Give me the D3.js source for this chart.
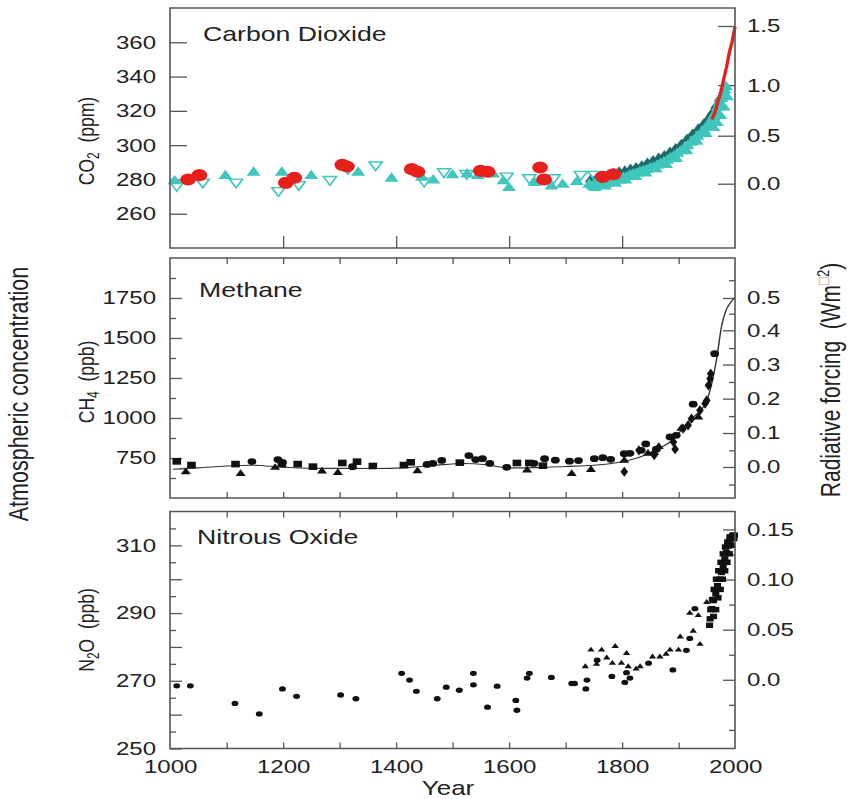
<!DOCTYPE html>
<html>
<head>
<meta charset="utf-8">
<script src="https://cdn.jsdelivr.net/npm/d3@7"></script>
<style>
  body { margin: 0; background: #fff; }
  svg { display: block; }
</style>
</head>
<body>
<svg id="chart"></svg>
<script>
// ---- data: [year, value] ----
var co2Circles = [[1032,280],[1052,282.5],[1205,278],[1220,281],[1305,288.5],[1313,287.5],[1428,286],[1438,284.5],
  [1550,285],[1562,284.5],[1655,287],[1662,280],[1766,281.5],[1785,283]];
var co2TriUp = [[1008,279],[1098,282],[1148,284],[1198,284],[1250,282],[1333,284],[1392,280.5],[1446,281],[1466,279.5],
  [1500,282.5],[1526,283],[1545,282],[1572,283],[1590,279],[1600,275],[1645,278],[1675,276],[1695,277],[1720,278.5],
  [1742,277],[1748,276],[1755,277.5],[1760,276.5],[1766,278],[1772,277.5],[1778,279],[1784,278.5],[1790,280],[1796,279.5],
  [1802,281],[1808,281.5],[1814,282.5],[1820,283],[1826,283.5],[1832,284.5],[1838,285],[1844,285.5],[1850,286.5],
  [1856,287],[1862,288],[1868,289],[1874,290],[1880,291],[1886,292.5],[1892,293.5],[1898,295],[1904,296.5],[1910,298],
  [1916,299.5],[1922,301.5],[1928,303],[1934,305],[1940,307],[1945,308.5],[1950,310.5],[1954,312.5],[1958,314.5],
  [1962,316.5],[1966,319],[1970,322],[1973,324.5],[1976,327],[1979,329.5],[1982,332],[1984,334],
  [1752,275],[1770,276],[1788,277.5],[1806,279.5],[1824,281.5],[1842,283.5],[1860,286],[1878,288.5],[1896,292],
  [1914,296.5],[1932,302],[1948,306.5],[1962,310],[1968,313],[1974,317],[1980,322],[1986,328]];
var co2TriDown = [[1012,276.5],[1058,278.5],[1117,278.5],[1192,273.5],[1228,277],[1283,280],[1315,286.5],[1364,288.5],
  [1450,279],[1485,284.5],[1525,283.5],[1596,282],[1636,281],[1679,281],[1727,283],[1751,283],[1768,281]];
var co2Dark = [[1745,280],[1755,280.5],[1765,281],[1775,282.5],[1785,283.5],[1795,284.5],[1805,285],[1815,286],
  [1825,287],[1835,288],[1845,289.5],[1855,291],[1865,292.5],[1875,294],[1885,296],[1895,298],[1905,300.5],
  [1915,303.5],[1925,306.5],[1935,309.5],[1945,312.5],[1953,315.5],[1960,319],[1967,323],[1973,327]];
var co2Line = [[1959,315],[1965,319.5],[1970,325.5],[1975,331],[1980,338.5],[1985,345.5],[1990,354],[1995,360.5],[2000,369]];

var ch4Squares = [[1012,729],[1038,706],[1116,712],[1198,712],[1226,712],[1253,696],[1305,719],[1331,727],[1359,700],
  [1414,706],[1426,723],[1513,721],[1614,719],[1636,719],[1660,702]];
var ch4Circles = [[1145,728],[1191,740],[1199,722],[1323,696],[1455,710],[1465,716],[1481,735],[1529,765],[1541,740],
  [1553,746],[1566,716],[1596,692],[1644,716],[1663,746],[1682,736],[1707,730],[1723,734],[1751,746],[1766,752],
  [1780,742],[1804,777],[1814,779],[1834,798],[1842,838],[1861,805],[1885,882],[1896,892],[1926,1086],[1964,1402]];
var ch4Triangles = [[1028,662],[1125,652],[1186,690],[1269,667],[1297,658],[1438,669],[1632,673],[1711,652],[1745,677],
  [1804,735],[1846,778],[1857,785],[1865,820],[1905,935],[1935,1005]];
var ch4Diamonds = [[1804,664],[1830,798],[1857,768],[1891,850],[1894,805],[1908,934],[1917,954],[1923,996],[1938,1048],
  [1947,1090],[1950,1110],[1953,1204],[1956,1246],[1957,1277]];
var ch4Line = [[1005,680],[1050,688],[1100,700],[1145,705],[1200,692],[1250,686],[1300,685],[1360,684],[1420,690],
  [1470,705],[1520,716],[1560,708],[1600,688],[1650,690],[1700,697],[1750,705],[1790,720],[1832,756],[1860,800],
  [1885,850],[1920,986],[1950,1110],[1968,1381],[1976,1569],[1984,1673],[1991,1715],[2000,1756]];

var n2oCircles = [[1012,268.5],[1036,268.5],[1115,263.3],[1158,260.2],[1199,267.6],[1224,265.4],[1302,265.8],[1329,264.7],
  [1410,272.2],[1424,270.2],[1436,266.9],[1473,264.7],[1489,268.1],[1512,267.2],[1537,272.2],[1537,268.8],[1562,262.2],
  [1579,268.4],[1612,264.2],[1614,261.3],[1632,270.8],[1636,272.2],[1675,271],[1711,269.2],[1716,269.2],[1736,267.6],
  [1738,270.2],[1756,276.1],[1782,271.3],[1805,269.5],[1808,272.4],[1814,270.8],[1847,275.2],[1890,273.2],[1914,279],
  [1920,282.5],[1929,291.3]];
var n2oTriangles = [[1735,274.2],[1745,279.1],[1755,274.9],[1764,279.1],[1773,276.8],[1788,280.2],[1783,275.2],
  [1799,275.2],[1808,278.1],[1811,274.2],[1825,273.5],[1832,274.2],[1854,277.1],[1867,277.1],[1878,277.9],[1885,279.1],
  [1900,279.1],[1903,283],[1920,290],[1926,284.7],[1938,280.8],[1935,289.3],[1950,293.2]];
var n2oSquares = [[1955,286.4],[1956,288.3],[1959,291.3],[1962,293.7],[1966,295.7],[1969,298.1],[1973,300],[1976,302],
  [1979,304],[1982,306],[1985,307.9],[1988,309.8],[1991,311.3],[1994,312.3],
  [1962,289],[1966,291],[1970,294.5],[1974,297],[1978,300],[1982,302.5],[1986,305],[1990,307.5],[1994,310],[1998,312],
  [1957,291],[1960,294],[1963,297],[1967,300],[1971,302.5],[1975,305],[1979,307.5],[1983,309.5],[1987,311],[1991,312.5],
  [1996,313],[1999,313]];

// axis ticks
var yearLabels = [1000, 1200, 1400, 1600, 1800, 2000];
var yearMinor = [1100, 1200, 1300, 1400, 1500, 1600, 1700, 1800, 1900];
var co2Ticks = [260, 280, 300, 320, 340, 360];
var co2RfLabels = ["0.0", "0.5", "1.0", "1.5"];
var co2RfAt = [277.5, 305.5, 335, 369.5];
var ch4Ticks = [750, 1000, 1250, 1500, 1750];
var ch4Minor = [625, 875, 1125, 1375, 1625, 1875];
var ch4RfLabels = ["0.0", "0.1", "0.2", "0.3", "0.4", "0.5"];
var ch4RfAt = [694, 906, 1121, 1334, 1548, 1750];
var ch4RfMinorAt = [584, 798, 1012, 1225, 1437, 1652, 1861];
var n2oTicks = [250, 270, 290, 310];
var n2oMajor = [260, 280, 300];
var n2oMinor = [255, 265, 275, 285, 295, 305, 315];
var n2oRfLabels = ["0.0", "0.05", "0.10", "0.15"];
var n2oRfAt = [270.3, 285.1, 299.9, 314.7];
var n2oRfMinorAt = [255.5, 262.9, 277.7, 292.5, 307.3];

// the scanned figure is stretched sideways, so draw in a narrower box and stretch it
var S = 1.3;
var W = 852, H = 799;
var font = "'Liberation Sans', Arial, Helvetica, sans-serif";
var ink = "#222", frameCol = "#555";
var cyan = "#3fc6bd", red = "#e8201b", teal = "#1c6a6a";

var svg = d3.select("#chart")
  .attr("width", W).attr("height", H)
  .attr("viewBox", `0 0 ${W / S} ${H}`)
  .attr("preserveAspectRatio", "none");

var left = 170 / S, right = 735 / S;
var x = d3.scaleLinear().domain([1000, 2000]).range([left, right]);

function tidy(g, size) {
  g.attr("font-family", font).attr("font-size", size || 18.5);
  g.select(".domain").remove();
  g.selectAll("line").attr("stroke", frameCol).attr("stroke-width", 1.3).attr("vector-effect", "non-scaling-stroke");
  g.selectAll("text").attr("fill", ink);
  return g;
}

function makePanel(top, bottom, domain) {
  var y = d3.scaleLinear().domain(domain).range([bottom, top]);
  var g = svg.append("g");
  return { g: g, y: y, top: top, bottom: bottom };
}

function frame(p) {
  p.g.append("rect")
    .attr("x", left).attr("y", p.top)
    .attr("width", right - left).attr("height", p.bottom - p.top)
    .attr("fill", "none").attr("stroke", frameCol).attr("stroke-width", 1.6)
    .attr("vector-effect", "non-scaling-stroke");
}

function yAxis(p, side, values, labels, len) {
  var ax = (side === "left" ? d3.axisLeft(p.y) : d3.axisRight(p.y))
    .tickValues(values)
    .tickSize(-len / S)
    .tickPadding(side === "left" ? 14 / S : 12 / S)
    .tickFormat(function(d, i) { return labels ? labels[i] : ""; });
  var g = p.g.append("g")
    .attr("transform", `translate(${side === "left" ? left : right},0)`)
    .call(ax);
  tidy(g);
  if (side === "right") g.selectAll("text").attr("text-anchor", "start");
}

function xTicks(p, where, values, len) {
  var ax = (where === "top" ? d3.axisTop(x) : d3.axisBottom(x))
    .tickValues(values).tickSize(-len).tickFormat("");
  var g = p.g.append("g")
    .attr("transform", `translate(0,${where === "top" ? p.top : p.bottom})`)
    .call(ax);
  tidy(g);
}

function pts(p, data) {
  return p.g.append("g").selectAll("path").data(data).enter().append("path")
    .attr("transform", function(d) { return `translate(${x(d[0])},${p.y(d[1])})`; });
}

function title(p, txt, px, py) {
  p.g.append("text").attr("x", px / S).attr("y", py)
    .attr("font-family", font).attr("font-size", 20.5).attr("fill", ink).text(txt);
}

function yTitle(cx, cy, main, sub, after, unit) {
  var t = svg.append("text")
    .attr("transform", `translate(${cx / S},${cy}) rotate(-90)`)
    .attr("text-anchor", "middle").attr("dy", "0.35em")
    .attr("font-family", font).attr("font-size", 17.5).attr("fill", ink);
  t.append("tspan").text(main);
  t.append("tspan").attr("font-size", 12).attr("dy", "0.35em").text(sub);
  t.append("tspan").attr("dy", "-0.25em").text(after + "\u00a0\u00a0" + unit);
}

// ---------------- Carbon dioxide ----------------
var pC = makePanel(8, 248, [240, 380]);
yAxis(pC, "left", co2Ticks, co2Ticks.map(String), 17);
yAxis(pC, "right", co2RfAt, co2RfLabels, 17);
xTicks(pC, "bottom", [1200, 1400, 1600, 1800], 12);

pts(pC, co2Dark).attr("d", d3.symbol(d3.symbolTriangle, 40)).attr("fill", teal);
pts(pC, co2TriUp).attr("d", d3.symbol(d3.symbolTriangle, 50)).attr("fill", cyan);
pts(pC, co2TriDown).attr("d", d3.symbol(d3.symbolTriangle, 44))
  .attr("transform", function(d) { return `translate(${x(d[0])},${pC.y(d[1])}) rotate(180)`; })
  .attr("fill", "none").attr("stroke", cyan).attr("stroke-width", 1.4);
pts(pC, co2Circles).attr("d", d3.symbol(d3.symbolCircle, 115)).attr("fill", red);
pC.g.append("path").datum(co2Line)
  .attr("d", d3.line().x(function(d) { return x(d[0]); }).y(function(d) { return pC.y(d[1]); }))
  .attr("fill", "none").attr("stroke", red).attr("stroke-width", 2.6);
frame(pC);
title(pC, "Carbon Dioxide", 203, 41);
yTitle(86, 141, "CO", "2", "", "(ppm)");

// ---------------- Methane ----------------
var pM = makePanel(258, 498, [500, 2000]);
yAxis(pM, "left", ch4Ticks, ch4Ticks.map(String), 12);
yAxis(pM, "left", ch4Minor, null, 6);
yAxis(pM, "right", ch4RfAt, ch4RfLabels, 12);
yAxis(pM, "right", ch4RfMinorAt, null, 6);
xTicks(pM, "top", yearMinor, 6);
xTicks(pM, "bottom", yearMinor, 6);

pM.g.append("path").datum(ch4Line)
  .attr("d", d3.line().curve(d3.curveMonotoneX).x(function(d) { return x(d[0]); }).y(function(d) { return pM.y(d[1]); }))
  .attr("fill", "none").attr("stroke", "#333").attr("stroke-width", 1.1);
pts(pM, ch4Squares).attr("d", d3.symbol(d3.symbolSquare, 44)).attr("fill", "#111");
pts(pM, ch4Circles).attr("d", d3.symbol(d3.symbolCircle, 36)).attr("fill", "#111");
pts(pM, ch4Triangles).attr("d", d3.symbol(d3.symbolTriangle, 26)).attr("fill", "#111");
pts(pM, ch4Diamonds).attr("d", d3.symbol(d3.symbolDiamond, 30)).attr("fill", "#111");
frame(pM);
title(pM, "Methane", 199, 297);
yTitle(86, 382, "CH", "4", "", "(ppb)");

// ---------------- Nitrous oxide ----------------
var pN = makePanel(511.5, 748.5, [250, 320]);
yAxis(pN, "left", n2oTicks, n2oTicks.map(String), 12);
yAxis(pN, "left", n2oMajor, null, 12);
yAxis(pN, "left", n2oMinor, null, 6);
yAxis(pN, "right", n2oRfAt, n2oRfLabels, 12);
yAxis(pN, "right", n2oRfMinorAt, null, 6);
xTicks(pN, "top", yearMinor, 6);
xTicks(pN, "bottom", yearMinor, 6);

var xLab = pN.g.append("g").attr("transform", `translate(0,${pN.bottom})`)
  .call(d3.axisBottom(x).tickValues(yearLabels).tickSize(0).tickPadding(11).tickFormat(d3.format("d")));
tidy(xLab);

pts(pN, n2oCircles).attr("d", d3.symbol(d3.symbolCircle, 22)).attr("fill", "#111");
pts(pN, n2oTriangles).attr("d", d3.symbol(d3.symbolTriangle, 14)).attr("fill", "#111");
pts(pN, n2oSquares).attr("d", d3.symbol(d3.symbolSquare, 30)).attr("fill", "#111");
frame(pN);
title(pN, "Nitrous Oxide", 197, 544);
yTitle(86, 630, "N", "2", "O", "(ppb)");

svg.append("text").attr("x", 448 / S).attr("y", 795).attr("text-anchor", "middle")
  .attr("font-family", font).attr("font-size", 20).attr("fill", ink).text("Year");

// outer titles
svg.append("text")
  .attr("transform", `translate(${18 / S},394) rotate(-90)`)
  .attr("text-anchor", "middle").attr("dy", "0.35em")
  .attr("font-family", font).attr("font-size", 21.5).attr("fill", ink)
  .text("Atmospheric concentration");

var rf = svg.append("text")
  .attr("transform", `translate(${830 / S},380) rotate(-90)`)
  .attr("text-anchor", "middle").attr("dy", "0.35em")
  .attr("font-family", font).attr("font-size", 21).attr("fill", ink);
rf.append("tspan").text("Radiative forcing\u00a0\u00a0(Wm");
rf.append("tspan").attr("font-size", 13).attr("dy", "-0.6em").attr("fill", "#999").text("\u25a1");
rf.append("tspan").attr("font-size", 13).text("2");
rf.append("tspan").attr("dy", "0.4em").text(")");
</script>
</body>
</html>
